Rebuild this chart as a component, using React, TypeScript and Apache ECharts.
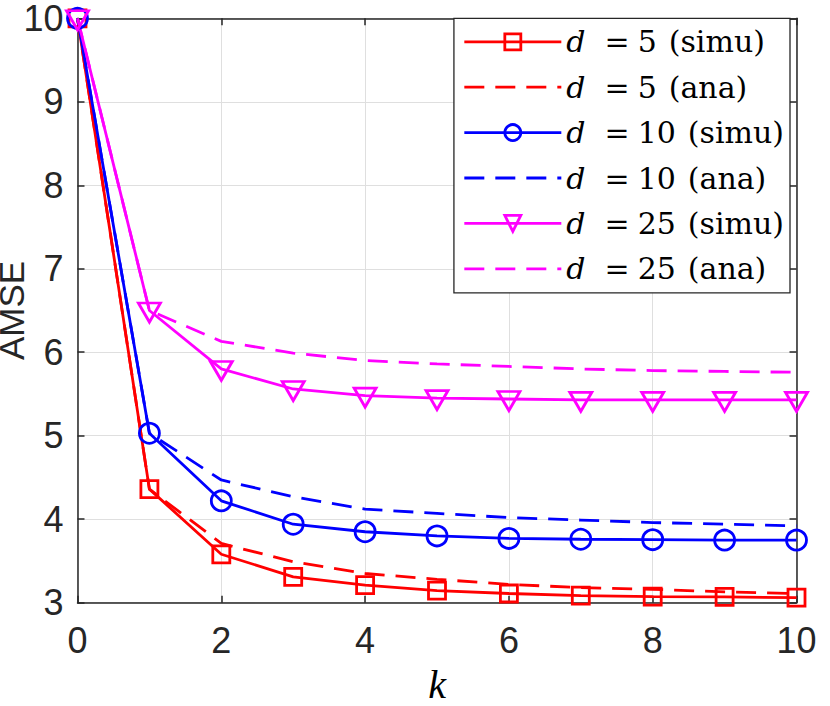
import React, { useEffect, useRef } from 'react';
import * as echarts from 'echarts';

const kValues = [0, 1, 2, 3, 4, 5, 6, 7, 8, 9, 10];
const d5Simu = [10, 4.36, 3.58, 3.31, 3.21, 3.145, 3.11, 3.085, 3.073, 3.07, 3.06];
const d5Ana = [10, 4.36, 3.71, 3.49, 3.35, 3.28, 3.22, 3.18, 3.16, 3.13, 3.11];
const d10Simu = [10, 5.03, 4.22, 3.94, 3.85, 3.8, 3.77, 3.76, 3.755, 3.75, 3.75];
const d10Ana = [10, 5.03, 4.47, 4.27, 4.12, 4.07, 4.02, 3.99, 3.96, 3.94, 3.92];
const d25Simu = [10, 6.5, 5.8, 5.56, 5.48, 5.45, 5.44, 5.43, 5.43, 5.43, 5.43];
const d25Ana = [10, 6.5, 6.13, 5.99, 5.9, 5.86, 5.83, 5.8, 5.78, 5.77, 5.76];
const seriesNames = [
  'd = 5 (simu)',
  'd = 5 (ana)',
  'd = 10 (simu)',
  'd = 10 (ana)',
  'd = 25 (simu)',
  'd = 25 (ana)',
];

const RED = '#ff0000';
const BLUE = '#0000ff';
const MAGENTA = '#ff00ff';
const AXIS = '#262626';
const GRIDC = '#dfdfdf';
const SANS = 'Liberation Sans, Arial, Helvetica, sans-serif';
const SERIF = 'DejaVu Serif, serif';

const toPoints = (vals: number[]) => kValues.map((k, i) => [k, vals[i]]);

export default function App() {
  const ref = useRef<HTMLDivElement>(null);
  useEffect(() => {
    const chart = echarts.init(ref.current!, null, { renderer: 'svg' });
    const lw = 2.8;
    const simu = (name: string, vals: number[], color: string, symbol: string, size: any, offset?: any) => ({
      name,
      type: 'line',
      data: toPoints(vals),
      symbol,
      symbolSize: size,
      symbolOffset: offset || [0, 0],
      showSymbol: true,
      clip: false,
      lineStyle: { color, width: lw, type: 'solid' },
      itemStyle: { color: 'rgba(0,0,0,0)', borderColor: color, borderWidth: lw },
      emphasis: { disabled: true },
      z: 3,
    });
    const ana = (name: string, vals: number[], color: string) => ({
      name,
      type: 'line',
      data: toPoints(vals),
      symbol: 'none',
      clip: false,
      lineStyle: { color, width: lw, type: [20, 11] },
      itemStyle: { color: 'rgba(0,0,0,0)', borderColor: 'rgba(0,0,0,0)', borderWidth: 0 },
      emphasis: { disabled: true },
      z: 2,
    });
    const baseAxisLine = { show: true, onZero: false, lineStyle: { color: AXIS, width: 1.5 } };
    const baseTick = { show: true, inside: true, length: 7, lineStyle: { color: AXIS, width: 1.5 } };
    const option: any = {
      animation: false,
      backgroundColor: '#ffffff',
      grid: {
        left: 77.5,
        right: 33.5,
        top: 18.3,
        bottom: 103.3,
        containLabel: false,
        outerBoundsMode: 'none',
      },
      xAxis: [
        {
          type: 'value',
          min: 0,
          max: 10,
          interval: 2,
          position: 'bottom',
          name: 'k',
          nameLocation: 'middle',
          nameGap: 62,
          nameMoveOverlap: false,
          nameTextStyle: { fontFamily: 'Liberation Serif, serif', fontStyle: 'italic', fontSize: 40, color: '#000' },
          axisLine: baseAxisLine,
          axisTick: baseTick,
          axisLabel: { fontFamily: SANS, fontSize: 36, color: AXIS, margin: 20 },
          splitLine: { show: true, lineStyle: { color: GRIDC, width: 1 } },
        },
        {
          type: 'value',
          min: 0,
          max: 10,
          interval: 2,
          position: 'top',
          axisLine: baseAxisLine,
          axisTick: baseTick,
          axisLabel: { show: false },
          splitLine: { show: false },
        },
      ],
      yAxis: [
        {
          type: 'value',
          min: 3,
          max: 10,
          interval: 1,
          position: 'left',
          name: 'AMSE',
          nameLocation: 'middle',
          nameGap: 52,
          nameMoveOverlap: false,
          nameRotate: 90,
          nameTextStyle: { fontFamily: SANS, fontSize: 35, lineHeight: 28, color: AXIS },
          axisLine: baseAxisLine,
          axisTick: baseTick,
          axisLabel: { fontFamily: SANS, fontSize: 36, lineHeight: 30, color: AXIS, margin: 14 },
          splitLine: { show: true, lineStyle: { color: GRIDC, width: 1 } },
        },
        {
          type: 'value',
          min: 3,
          max: 10,
          interval: 1,
          position: 'right',
          axisLine: baseAxisLine,
          axisTick: baseTick,
          axisLabel: { show: false },
          splitLine: { show: false },
        },
      ],
      legend: {
        data: seriesNames,
        orient: 'vertical',
        right: 40,
        top: 18.3,
        itemWidth: 97,
        itemHeight: 20,
        itemGap: 15.4,
        itemTextGap: 11,
        padding: [8.5, 6, 9, 9],
        backgroundColor: '#ffffff',
        borderColor: AXIS,
        borderWidth: 1.3,
        borderRadius: 0,
        selectedMode: false,
        itemStyle: { borderWidth: lw },
        lineStyle: { width: lw },
        formatter: (name: string) => {
          const m = name.match(/^d = (\d+) \((\w+)\)$/);
          if (!m) return name;
          return '{i|d}{e|=}{n|' + m[1] + '}{p|(' + m[2] + ')}';
        },
        textStyle: {
          color: '#000',
          fontFamily: SERIF,
          fontSize: 30,
          rich: {
            i: { fontFamily: SERIF, fontStyle: 'italic', fontSize: 30, padding: [0, 19, 0, 0], color: '#000' },
            e: { fontFamily: SERIF, fontSize: 30, padding: [0, 8, 0, 0], color: '#000' },
            n: { fontFamily: SERIF, fontSize: 30, padding: [0, 12, 0, 0], color: '#000' },
            p: { fontFamily: SERIF, fontSize: 30, color: '#000' },
          },
        },
      },
      series: [
        simu(seriesNames[0], d5Simu, RED, 'rect', 17),
        ana(seriesNames[1], d5Ana, RED),
        simu(seriesNames[2], d10Simu, BLUE, 'circle', 20),
        ana(seriesNames[3], d10Ana, BLUE),
        simu(seriesNames[4], d25Simu, MAGENTA, 'path://M0,0L22,0L11,19Z', [22, 19], [0, 2]),
        ana(seriesNames[5], d25Ana, MAGENTA),
      ],
    };
    chart.setOption(option);
    return () => chart.dispose();
  }, []);
  return (
    <div
      ref={ref}
      style={{ position: 'fixed', left: 0, top: 0, width: 830, height: 706, background: '#fff' }}
    />
  );
}
